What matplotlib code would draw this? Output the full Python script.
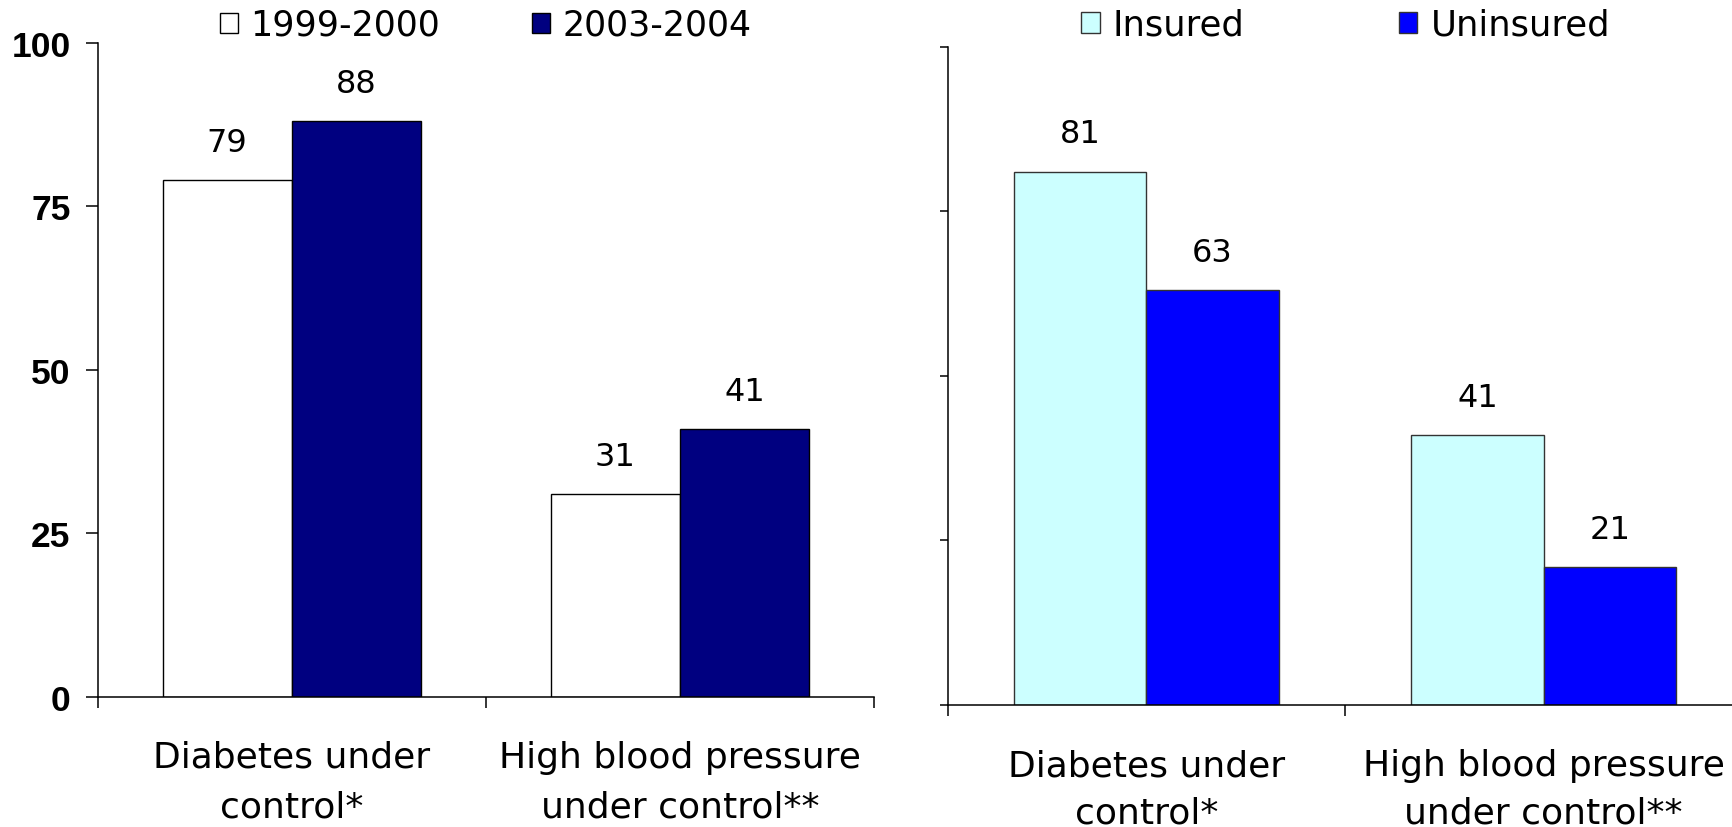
import matplotlib
matplotlib.use("Agg")
import matplotlib.pyplot as plt
import numpy as np

categories = ["Diabetes under\ncontrol*", "High blood pressure\nunder control**"]

left_series = ["1999-2000", "2003-2004"]
left_1999 = [79, 31]
left_2003 = [88, 41]

right_series = ["Insured", "Uninsured"]
right_insured = [81, 41]
right_uninsured = [63, 21]

yticks = [0, 25, 50, 75, 100]

W, H = 1733, 828
fig = plt.figure(figsize=(W / 100, H / 100), dpi=100)

ax1 = fig.add_axes([97.7 / W, 1 - 697.7 / H, (874 - 97.7) / W, (697.7 - 44) / H])
ax2 = fig.add_axes([947.7 / W, 1 - 706 / H, 2 * 397.3 / W, (706 - 47.5) / H])

bw = 0.333
x = np.arange(len(categories))


def style(ax, tick_len, show_labels, lsp):
    ax.set_xlim(-0.5, 1.5)
    ax.set_ylim(0, 100)
    for s in ["top", "right"]:
        ax.spines[s].set_visible(False)
    for s in ["left", "bottom"]:
        ax.spines[s].set_linewidth(1.1)
        ax.spines[s].set_color("black")
    ax.set_yticks(yticks)
    if show_labels:
        ax.set_yticklabels([str(v) for v in yticks], fontfamily="Liberation Sans",
                           fontweight="bold", fontsize=25.5)
    else:
        ax.set_yticklabels([])
    ax.tick_params(axis="y", direction="out", length=tick_len, width=1.1, pad=11)
    ax.set_xticks([-0.5, 0.5, 1.5])
    ax.set_xticklabels([])
    ax.tick_params(axis="x", which="major", direction="out", length=8, width=1.1)
    ax.set_xticks(x, minor=True)
    ax.set_xticklabels(categories, minor=True, fontsize=26, linespacing=lsp)
    ax.tick_params(axis="x", which="minor", length=0, pad=31)


def labels(ax, bars):
    for b in bars:
        ax.annotate(f"{b.get_height():.0f}", (b.get_x() + b.get_width() / 2, b.get_height()),
                    xytext=(0, 21), textcoords="offset points", ha="center", va="baseline",
                    fontsize=23)


b1 = ax1.bar(x - bw / 2, left_1999, bw, color="white", edgecolor="black", linewidth=1.0,
             label=left_series[0])
b2 = ax1.bar(x + bw / 2, left_2003, bw, color="#000080", edgecolor="black", linewidth=1.0,
             label=left_series[1])
b3 = ax2.bar(x - bw / 2, right_insured, bw, color="#CCFFFF", edgecolor="#333333", linewidth=1.0,
             label=right_series[0])
b4 = ax2.bar(x + bw / 2, right_uninsured, bw, color="#0000FF", edgecolor="#333333", linewidth=1.0,
             label=right_series[1])

style(ax1, 8.5, True, 1.58)
style(ax2, 5.5, False, 1.5)
for ax, bs in [(ax1, (b1, b2)), (ax2, (b3, b4))]:
    for b in bs:
        labels(ax, b)

ax1.legend(loc="center", bbox_to_anchor=(0.5, 1 + 18 / (697.7 - 44)), ncol=2, frameon=False,
           fontsize=25, handlelength=0.52, handleheight=0.52, handletextpad=0.37,
           columnspacing=2.64, borderpad=0, borderaxespad=0)
ax2.legend(loc="center", bbox_to_anchor=(398 / (2 * 397.3), 1 + 21.5 / (706 - 47.5)), ncol=2,
           frameon=False, fontsize=25.5, handlelength=0.52, handleheight=0.52,
           handletextpad=0.37, columnspacing=4.35, borderpad=0, borderaxespad=0)

fig.savefig("out.png", dpi=100)
